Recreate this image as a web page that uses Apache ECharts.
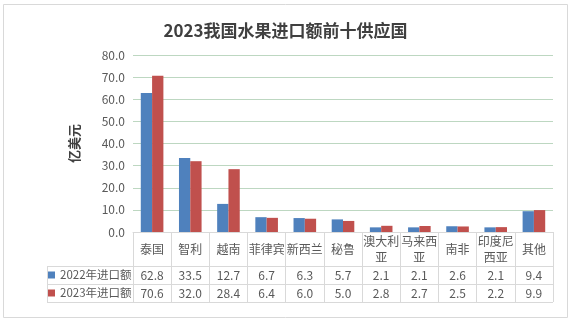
<!DOCTYPE html>
<html><head><meta charset="utf-8">
<script src="https://cdn.jsdelivr.net/npm/echarts@6/dist/echarts.min.js"></script>
<style>html,body{margin:0;padding:0;background:#fff}#c{width:571px;height:323px}</style>
</head><body><div id="c"></div>
<script>
const title = '2023我国水果进口额前十供应国';
const categories = ['泰国','智利','越南','菲律宾','新西兰','秘鲁','澳大利亚','马来西亚','南非','印度尼西亚','其他'];
const categoryLabels = ['泰国','智利','越南','菲律宾','新西兰','秘鲁','澳大利\n亚','马来西\n亚','南非','印度尼\n西亚','其他'];
const seriesNames = ['2022年进口额','2023年进口额'];
const values2022 = [62.8,33.5,12.7,6.7,6.3,5.7,2.1,2.1,2.6,2.1,9.4];
const values2023 = [70.6,32.0,28.4,6.4,6.0,5.0,2.8,2.7,2.5,2.2,9.9];
const yTicks = [0,10,20,30,40,50,60,70,80];

const FONT = '"Noto Sans CJK SC","Noto Sans",sans-serif';
const L = 133, R = 553, T = 55, B = 232;
const row1 = 266, row2 = 284, row3 = 302, tableLeft = 47;
const gridLine = '#d9d9d9';
const txt = '#595959';

const chart = echarts.init(document.getElementById('c'), null, {renderer:'canvas'});
const fmt = v => v.toFixed(1);
const valueAxis = (arr, margin) => ({
  type:'category', data: arr.map(fmt), gridIndex:0, position:'bottom',
  axisLine:{show:false}, axisTick:{show:false}, splitLine:{show:false},
  axisLabel:{margin:margin, verticalAlign:'middle', color:txt, fontSize:12, fontFamily:FONT, interval:0}
});
chart.setOption({
  animation:false,
  textStyle:{fontFamily:FONT},
  title:{text:title, left:'center', top:17, textStyle:{fontSize:17, fontWeight:'bold', color:'#404040', fontFamily:FONT}},
  grid:{left:L, right:571-R, top:T, bottom:323-B, containLabel:false},
  legend:{
    data:seriesNames, orient:'vertical', left:tableLeft+1, top:row1, padding:0, itemGap:0,
    itemWidth:7, itemHeight:7, icon:'rect', selectedMode:false,
    textStyle:{fontSize:11.5, color:txt, lineHeight:18, fontFamily:FONT}
  },
  xAxis:[
    {type:'category', data:categories, gridIndex:0, position:'bottom',
     axisLine:{show:true, lineStyle:{color:gridLine}},
     axisTick:{show:true, length:row3-B, alignWithLabel:false, lineStyle:{color:gridLine}},
     axisLabel:{interval:0, margin:17, verticalAlign:'middle', lineHeight:16, color:txt, fontSize:12, fontFamily:FONT,
       formatter:(v, i) => categoryLabels[i]}},
    valueAxis(values2022, row1 - B + 9),
    valueAxis(values2023, row2 - B + 9)
  ],
  yAxis:{type:'value', min:0, max:80, interval:10,
    name:'亿美元', nameLocation:'middle', nameGap:52, nameRotate:90,
    nameTextStyle:{fontSize:13, fontWeight:'bold', color:'#404040', fontFamily:FONT},
    axisLine:{show:false}, axisTick:{show:false},
    axisLabel:{formatter:v => yTicks.includes(v) ? v.toFixed(1) : '', color:txt, fontSize:12, margin:8, fontFamily:FONT},
    splitLine:{lineStyle:{color:'#bdd7c1', width:1}}
  },
  series:[
    {name:seriesNames[0], type:'bar', data:values2022, barWidth:11.3, barGap:'0%', itemStyle:{color:'#4F81BD'}},
    {name:seriesNames[1], type:'bar', data:values2023, barWidth:11.3, barGap:'0%', itemStyle:{color:'#C0504D'}}
  ],
  graphic:[
    {type:'rect', shape:{x:3.5, y:4.5, width:564, height:313}, style:{fill:'none', stroke:'#d9d9d9', lineWidth:1}, silent:true, z:-1},
    {type:'line', shape:{x1:tableLeft, y1:row1+0.5, x2:R, y2:row1+0.5}, style:{stroke:gridLine, lineWidth:1}},
    {type:'line', shape:{x1:tableLeft, y1:row2+0.5, x2:R, y2:row2+0.5}, style:{stroke:gridLine, lineWidth:1}},
    {type:'line', shape:{x1:tableLeft, y1:row3+0.5, x2:R, y2:row3+0.5}, style:{stroke:gridLine, lineWidth:1}},
    {type:'line', shape:{x1:tableLeft+0.5, y1:row1, x2:tableLeft+0.5, y2:row3}, style:{stroke:gridLine, lineWidth:1}}
  ]
});
</script></body></html>
